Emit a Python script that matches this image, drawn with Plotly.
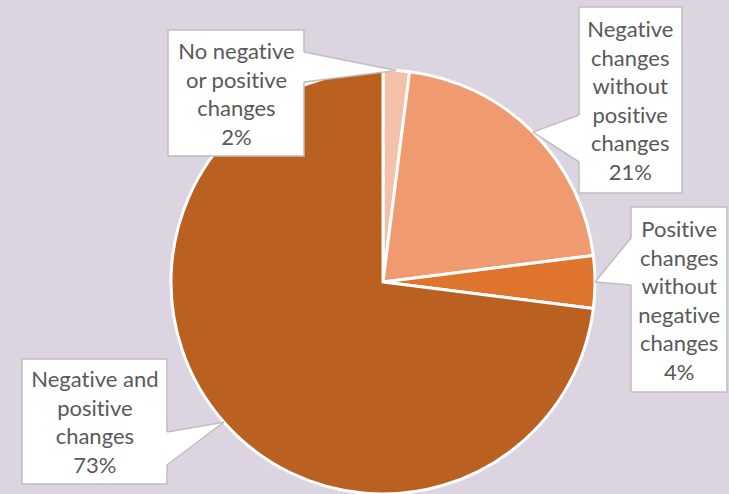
import math
import plotly.graph_objects as go

# ---- data ----
labels = [
    "No negative<br>or positive<br>changes",
    "Negative<br>changes<br>without<br>positive<br>changes",
    "Positive<br>changes<br>without<br>negative<br>changes",
    "Negative and<br>positive<br>changes",
]
values = [2, 21, 4, 73]
colors = ["#F4C0A9", "#F09A6F", "#DF742D", "#BA6122"]

W, H = 729, 494
BG = "#DCD4E0"
CX, CY, R = 383, 282, 212  # pie geometry in pixels (layout)

# label box geometry (pixels): x0, y0, x1, y1, side of callout
boxes = [
    (168, 30, 304, 156, "right", (52, 82)),
    (579, 7, 682, 193, "left", (115, 162)),
    (631, 207, 727, 392, "left", (238, 285)),
    (22, 359, 167, 484, "right", (432, 465)),
]

def px(x):
    return x / W

def py(y):
    return 1 - y / H

fig = go.Figure()
fig.add_trace(go.Pie(
    labels=[l.replace("<br>", " ") for l in labels],
    values=values,
    sort=False,
    direction="clockwise",
    rotation=0,
    textinfo="none",
    hoverinfo="label+percent",
    marker=dict(colors=colors, line=dict(color="white", width=3)),
    domain=dict(x=[px(CX - R), px(CX + R)], y=[0, py(CY - R)]),
    showlegend=False,
))

shapes = []
annotations = []
total = sum(values)
cum = 0
for i, v in enumerate(values):
    mid = (cum + v / 2) / total * 2 * math.pi
    cum += v
    tx = CX + R * math.sin(mid)
    ty = CY - R * math.cos(mid)
    x0, y0, x1, y1, side, (b0, b1) = boxes[i]
    shapes.append(dict(type="rect", xref="paper", yref="paper",
                       x0=px(x0), x1=px(x1), y0=py(y1), y1=py(y0),
                       fillcolor="white", line=dict(color="#BFBFBF", width=1.5),
                       layer="above"))
    ex = x1 if side == "right" else x0
    inset = -2 if side == "right" else 2
    path = (f"M {px(ex + inset)},{py(b0)} L {px(ex)},{py(b0)} L {px(tx)},{py(ty)} "
            f"L {px(ex)},{py(b1)} L {px(ex + inset)},{py(b1)} Z")
    shapes.append(dict(type="path", xref="paper", yref="paper", path=path,
                       fillcolor="white", line=dict(width=0), layer="above"))
    for bb in (b0, b1):
        shapes.append(dict(type="line", xref="paper", yref="paper",
                           x0=px(ex), y0=py(bb), x1=px(tx), y1=py(ty),
                           line=dict(color="#BFBFBF", width=1.5), layer="above"))
    annotations.append(dict(
        x=px((x0 + x1) / 2), y=py((y0 + y1) / 2), xref="paper", yref="paper",
        text=f"{labels[i]}<br>{v}%", showarrow=False, align="center",
        xanchor="center", yanchor="middle",
        font=dict(family="Lato, 'Open Sans', sans-serif", size=22, color="#595959"),
    ))

fig.update_layout(
    width=W, height=H,
    margin=dict(l=0, r=0, t=0, b=0),
    paper_bgcolor=BG, plot_bgcolor=BG,
    shapes=shapes, annotations=annotations,
)
post = (
    "document.body.style.margin='0';document.body.style.overflow='hidden';"
    "var s=document.createElement('style');"
    "s.textContent='svg text{font-variant-ligatures:none;font-feature-settings:\"liga\" 0,\"clig\" 0;}';"
    "document.head.appendChild(s);"
)
fig.write_html("out.html", config={"displayModeBar": False}, post_script=post)
